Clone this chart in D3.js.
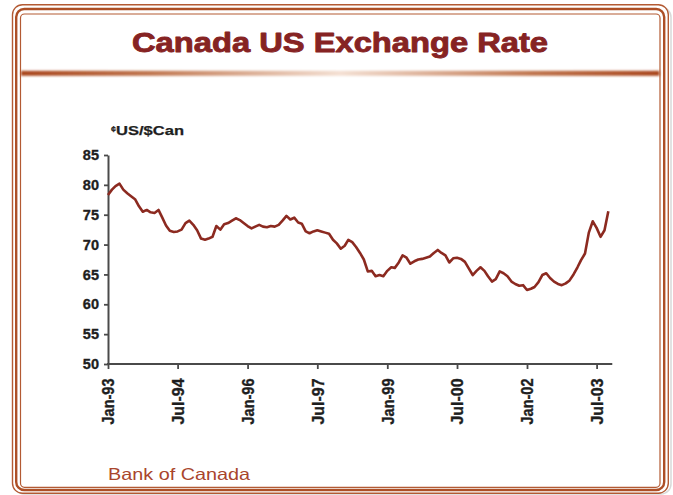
<!DOCTYPE html>
<html>
<head>
<meta charset="utf-8">
<script src="https://cdn.jsdelivr.net/npm/d3@7"></script>
<style>
  html, body { margin: 0; padding: 0; background: #fff; }
  svg { display: block; }
</style>
</head>
<body>
<svg id="chart" width="673" height="495"></svg>
<script>
// Canada / US exchange rate, US cents per Canadian dollar, monthly from Jan 1993
const titleText = "Canada US Exchange Rate";
const unitSymbol = "¢";
const unitText = "US/$Can";
const sourceText = "Bank of Canada";

const firstMonth = "1993-01";
const axisEndMonth = "2003-11";
const rates = [
  78.3, 79.2, 79.8, 80.2, 79.2, 78.6, 78.1, 77.6, 76.4, 75.5, 75.8, 75.4,   // 1993
  75.3, 75.8, 74.6, 73.2, 72.3, 72.1, 72.2, 72.5, 73.6, 74.0, 73.3, 72.4,   // 1994
  71.0, 70.8, 71.0, 71.3, 73.1, 72.5, 73.4, 73.6, 74.0, 74.4, 74.1, 73.6,   // 1995
  73.1, 72.7, 73.0, 73.3, 73.0, 72.9, 73.1, 73.0, 73.3, 74.0, 74.8, 74.2,   // 1996
  74.5, 73.7, 73.5, 72.2, 71.9, 72.2, 72.4, 72.2, 72.0, 71.8, 70.8, 70.2,   // 1997
  69.3, 69.8, 70.8, 70.4, 69.6, 68.6, 67.5, 65.5, 65.6, 64.7, 64.9, 64.7,   // 1998
  65.6, 66.2, 66.1, 67.0, 68.2, 67.8, 66.8, 67.2, 67.5, 67.6, 67.8, 68.0,   // 1999
  68.6, 69.1, 68.6, 68.2, 67.0, 67.7, 67.8, 67.6, 67.1, 66.0, 64.9, 65.6,   // 2000
  66.2, 65.6, 64.7, 63.8, 64.2, 65.5, 65.2, 64.7, 63.8, 63.4, 63.1, 63.2,   // 2001
  62.4, 62.6, 62.9, 63.7, 64.9, 65.2, 64.4, 63.8, 63.4, 63.2, 63.5, 64.0,   // 2002
  65.0, 66.2, 67.4, 68.5, 72.0, 73.9, 72.8, 71.3, 72.4, 75.6              // 2003
];

const xTickMonths = ["1993-01", "1994-07", "1996-01", "1997-07", "1999-01", "2000-07", "2002-01", "2003-07"];
const yTicks = [50, 55, 60, 65, 70, 75, 80, 85];

const parseMonth = d3.timeParse("%Y-%m");
const start = parseMonth(firstMonth);
const series = rates.map((v, i) => ({ date: d3.timeMonth.offset(start, i), value: v }));

const svg = d3.select("#chart");
const font = "'Liberation Sans', Arial, Helvetica, sans-serif";
const frameColor = "#b35a33";
const inkColor = "#1e1e1e";

// ---- frame -------------------------------------------------------------
const defs = svg.append("defs");
const grad = defs.append("linearGradient").attr("id", "sepGrad")
  .attr("x1", "0%").attr("x2", "100%").attr("y1", "0%").attr("y2", "0%");
[["0%", "#a9461d"], ["20%", "#c0764f"], ["50%", "#f4e0d3"], ["80%", "#c0764f"], ["100%", "#a9461d"]]
  .forEach(([o, c]) => grad.append("stop").attr("offset", o).attr("stop-color", c));
defs.append("filter").attr("id", "soft").attr("x", "-5%").attr("y", "-200%").attr("width", "110%").attr("height", "500%")
  .append("feGaussianBlur").attr("stdDeviation", 0.9);

// faint drop shadow along right and bottom
svg.append("rect").attr("x", 14).attr("y", 7).attr("width", 657).attr("height", 487).attr("rx", 10)
  .attr("fill", "none").attr("stroke", "#d9d9d9").attr("stroke-width", 1.5);

svg.append("rect").attr("x", 12.5).attr("y", 4.7).attr("width", 655.8).attr("height", 488.6).attr("rx", 10)
  .attr("fill", "#fff").attr("stroke", frameColor).attr("stroke-width", 1.4);
svg.append("rect").attr("x", 16.2).attr("y", 9).attr("width", 648).attr("height", 481).attr("rx", 8)
  .attr("fill", "none").attr("stroke", "#ad4f26").attr("stroke-width", 2.4);
svg.append("rect").attr("x", 20.5).attr("y", 14).attr("width", 639.5).attr("height", 473.3).attr("rx", 4)
  .attr("fill", "#fff").attr("stroke", frameColor).attr("stroke-width", 1.2);

// header separator
svg.append("rect").attr("x", 21).attr("y", 70.8).attr("width", 638.5).attr("height", 5)
  .attr("fill", "url(#sepGrad)").attr("filter", "url(#soft)");

// ---- title -------------------------------------------------------------
svg.append("text")
  .attr("x", 340).attr("y", 51.5)
  .attr("text-anchor", "middle")
  .attr("font-family", font).attr("font-weight", "bold").attr("font-size", 27.5)
  .attr("fill", "#862323").attr("stroke", "#862323").attr("stroke-width", 0.9)
  .attr("stroke-linejoin", "round")
  .attr("textLength", 416).attr("lengthAdjust", "spacingAndGlyphs")
  .text(titleText);

// ---- scales ------------------------------------------------------------
const x = d3.scaleTime()
  .domain([parseMonth(xTickMonths[0]), parseMonth(xTickMonths[xTickMonths.length - 1])])
  .range([108, 596.6]);
const y = d3.scaleLinear().domain([50, 85]).range([364, 155]);

const axisColor = "#4a4a4a";

// y axis
const yAxis = svg.append("g").attr("transform", "translate(108,0)")
  .call(d3.axisLeft(y).tickValues(yTicks).tickSize(4).tickSizeOuter(0).tickPadding(5));
yAxis.select(".domain").attr("stroke", axisColor).attr("stroke-width", 2);
yAxis.selectAll(".tick line").attr("stroke", axisColor).attr("stroke-width", 1.8);
yAxis.selectAll(".tick text")
  .attr("font-family", font).attr("font-weight", "bold").attr("font-size", 14.5)
  .attr("fill", inkColor).attr("stroke", inkColor).attr("stroke-width", 0.35);

// x axis
const xAxis = svg.append("g").attr("transform", "translate(0,364)")
  .call(d3.axisBottom(x).tickValues(xTickMonths.map(parseMonth))
    .tickFormat(d3.timeFormat("%b-%y")).tickSize(5).tickSizeOuter(0));
xAxis.select(".domain").remove();
xAxis.append("line")
  .attr("x1", x(start) - 1).attr("x2", x(parseMonth(axisEndMonth)))
  .attr("stroke", axisColor).attr("stroke-width", 2.2);
xAxis.selectAll(".tick line").attr("stroke", axisColor).attr("stroke-width", 1.8);
xAxis.selectAll(".tick text")
  .attr("font-family", font).attr("font-weight", "bold").attr("font-size", 14)
  .attr("fill", inkColor).attr("stroke", inkColor).attr("stroke-width", 0.3)
  .attr("text-anchor", "end")
  .attr("transform", "rotate(-90) scale(1,1.15)")
  .attr("x", -14.5).attr("y", 0).attr("dy", "0.36em")
  .attr("textLength", 46).attr("lengthAdjust", "spacingAndGlyphs");

// unit label
const unit = svg.append("text")
  .attr("x", 111).attr("y", 135)
  .attr("font-family", font).attr("font-weight", "bold").attr("font-size", 13.5)
  .attr("fill", inkColor).attr("stroke", inkColor).attr("stroke-width", 0.25);
unit.append("tspan").attr("font-size", 9).attr("dy", -3).text(unitSymbol);
unit.append("tspan").attr("dy", 3).attr("textLength", 68).attr("lengthAdjust", "spacingAndGlyphs").text(unitText);

// ---- rate line ---------------------------------------------------------
svg.append("path")
  .datum(series)
  .attr("fill", "none")
  .attr("stroke", "#8c2a20")
  .attr("stroke-width", 2.6)
  .attr("stroke-linejoin", "round")
  .attr("d", d3.line().x(d => x(d.date)).y(d => y(d.value)));

// ---- source ------------------------------------------------------------
svg.append("text")
  .attr("x", 108).attr("y", 480)
  .attr("font-family", font).attr("font-size", 16.5)
  .attr("fill", "#a9452c")
  .attr("textLength", 142).attr("lengthAdjust", "spacingAndGlyphs")
  .text(sourceText);
</script>
</body>
</html>
